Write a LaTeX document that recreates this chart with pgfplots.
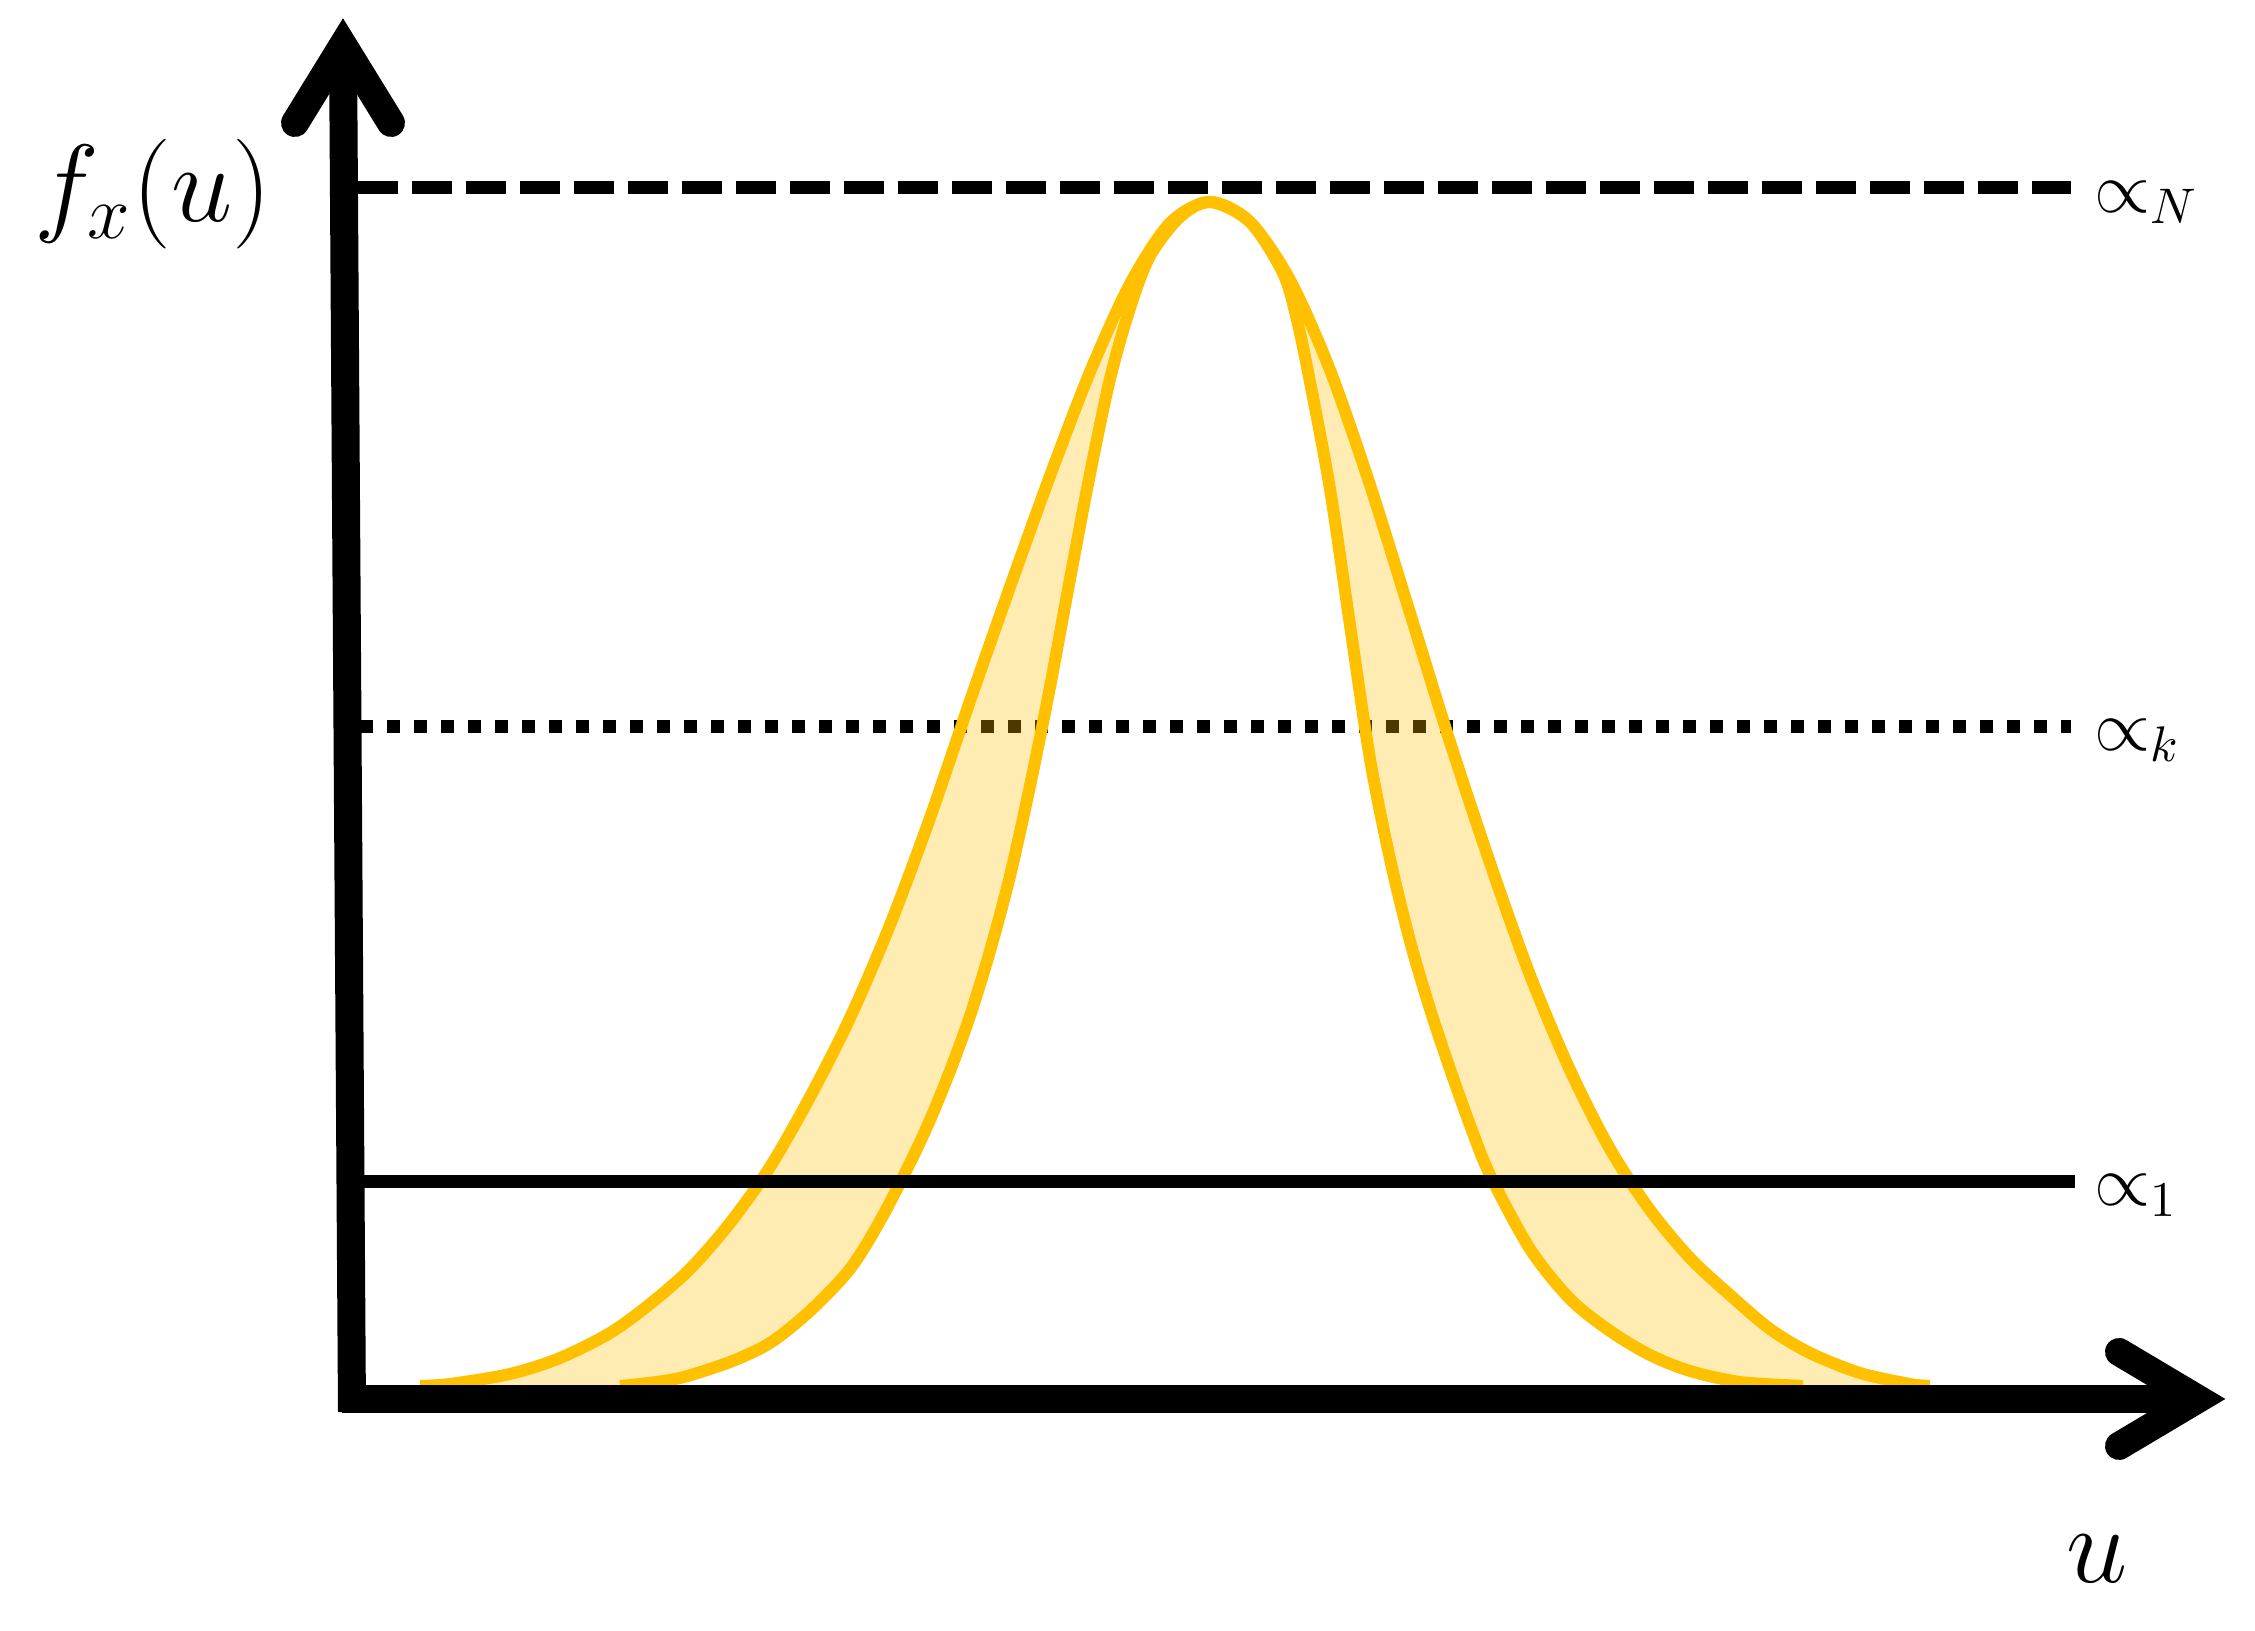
\documentclass[border=0pt]{standalone}
\usepackage{pgfplots}
\pgfplotsset{compat=1.18}
\usepgfplotslibrary{fillbetween}
\definecolor{gold}{HTML}{FFC000}

\begin{document}
\begin{tikzpicture}
\begin{axis}[
    x=0.2pt, y=0.2pt,
    xmin=-347, xmax=1908, ymin=-232, ymax=1399,
    hide axis, clip=false,
]
% alpha_k level, sits under the shaded band
\addplot[black, line width=2.6pt, dash pattern=on 2.6pt off 2.8pt] coordinates {(13,672) (1724,672)};

% wide density
\addplot[name path=outer, gold, line width=2.4pt, smooth] coordinates {
    (73,13) (103,15) (163,25) (213,41) (263,66) (303,95) (343,130) (383,176)
    (423,232) (463,302) (503,381) (543,474) (583,581) (623,698) (663,812)
    (703,923) (743,1027) (783,1115) (823,1176) (863,1197) (903,1177)
    (943,1119) (983,1029) (1023,914) (1063,786) (1103,657) (1143,536)
    (1183,424) (1223,329) (1263,250) (1303,189) (1343,141) (1383,104)
    (1423,70) (1463,46) (1513,26) (1563,15) (1583,13)
};
% narrow density
\addplot[name path=inner, gold, line width=2.4pt, smooth] coordinates {
    (273,13) (293,15) (333,21) (383,37) (423,56) (463,88) (503,130) (533,178)
    (563,236) (583,279) (603,328) (623,383) (643,448) (663,523) (683,613)
    (703,712) (723,820) (743,925) (763,1020) (783,1091) (803,1143) (833,1182)
    (863,1197) (903,1177) (936,1126) (950,1079) (963,1017) (983,910)
    (1003,774) (1023,640) (1043,540) (1063,458) (1083,390) (1103,330)
    (1123,274) (1143,224) (1183,150) (1223,100) (1263,68) (1303,44)
    (1343,28) (1393,17) (1456,13)
};
\addplot[gold, fill opacity=0.3, draw=none] fill between[of=outer and inner, on layer=main];

% alpha_1 and alpha_N levels
\addplot[black, line width=2.6pt] coordinates {(15,217) (1728,217)};
\addplot[black, line width=2.6pt, dash pattern=on 8pt off 2.8pt] coordinates {(11,1211) (1724,1211)};

% axes with open arrow heads
\draw[black, line width=5.6pt] (axis cs:5,-13) -- (axis cs:-4,1354);
\draw[black, line width=5.6pt, line cap=round, line join=miter] (axis cs:-52,1276) -- (axis cs:-4,1354) -- (axis cs:44,1276);
\draw[black, line width=5.6pt] (axis cs:-5,0) -- (axis cs:1851,0);
\draw[black, line width=5.6pt, line cap=round, line join=miter] (axis cs:1772,47) -- (axis cs:1851,0) -- (axis cs:1772,-47);

% labels
\node[anchor=base west, inner sep=0pt, font=\fontsize{20.74}{25}\selectfont] at (axis cs:-314,1177) {\scalebox{1.06}{$f_x(u)$}};
\node[anchor=base west, inner sep=0pt, font=\fontsize{20.74}{25}\selectfont] at (axis cs:1718,-184) {\scalebox{1.06}{$u$}};
\node[anchor=base west, inner sep=0pt, font=\fontsize{14.4}{17}\selectfont] at (axis cs:1746,1186) {$\propto_N$};
\node[anchor=base west, inner sep=0pt, font=\fontsize{14.4}{17}\selectfont] at (axis cs:1746,648) {$\propto_k$};
\node[anchor=base west, inner sep=0pt, font=\fontsize{14.4}{17}\selectfont] at (axis cs:1746,193) {$\propto_1$};
\end{axis}
\pgfresetboundingbox
\useasboundingbox (current axis.south west) rectangle (current axis.north east);
\end{tikzpicture}
\end{document}
